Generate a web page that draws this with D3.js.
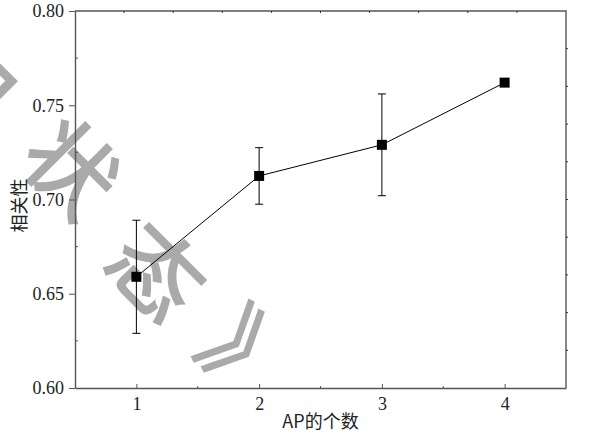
<!DOCTYPE html>
<html>
<head>
<meta charset="utf-8">
<script src="https://cdn.jsdelivr.net/npm/d3@7"></script>
<style>
  body { margin: 0; background: #fff; }
  svg { display: block; }
  .tick text { font-family: "Liberation Serif", serif; font-size: 18px; fill: #222; }
  .title { font-family: "Noto Sans CJK SC", sans-serif; font-size: 18px; fill: #222; }
</style>
</head>
<body>
<div id="chart"></div>
<script>
// number of APs vs. correlation, mean with error bars
const apCount = [1, 2, 3, 4];
const corrMean = [0.659, 0.7125, 0.729, 0.762];
const corrErr = [0.030, 0.015, 0.027, 0];
const yTicks = [0.60, 0.65, 0.70, 0.75, 0.80];
const yMinor = [0.625, 0.675, 0.725, 0.775];
const xTicks = [1, 2, 3, 4];
const xMinor = [1.5, 2.5, 3.5];
const watermark = ["口", "状", "态", "》"];

const W = 590, H = 443;
const margin = { top: 11, right: 24, bottom: 55, left: 75 };

const svg = d3.select("#chart").append("svg")
    .attr("width", W)
    .attr("height", H);

const x = d3.scaleLinear().domain([0.5, 4.5]).range([margin.left, W - margin.right]);
const y = d3.scaleLinear().domain([0.6, 0.8]).range([H - margin.bottom, margin.top]);

// grey watermark glyphs, tilted, behind everything
const wmPos = [[-30, 80], [72, 168], [157, 272], [250, 358]];
svg.append("g").selectAll("text").data(watermark).enter().append("text")
    .attr("transform", (d, i) => `translate(${wmPos[i][0]},${wmPos[i][1]}) rotate(45)`)
    .attr("text-anchor", "middle")
    .attr("dy", "0.38em")
    .attr("font-family", "Noto Sans CJK SC, sans-serif")
    .attr("font-size", 90)
    .attr("fill", "#aaa")
    .attr("stroke", "#aaa")
    .attr("stroke-width", 2)
    .text(d => d);

const frameColor = "#555";

// bottom axis, ticks pointing in
const xAxis = svg.append("g")
    .attr("transform", `translate(0,${y(0.6)})`)
    .call(d3.axisBottom(x).tickValues(xTicks).tickFormat(d3.format("d"))
        .tickSizeInner(-4).tickSizeOuter(0).tickPadding(9));
xAxis.append("g").selectAll("line").data(xMinor).enter().append("line")
    .attr("x1", d => x(d)).attr("x2", d => x(d))
    .attr("y1", 0).attr("y2", -2)
    .attr("stroke", frameColor);

// left axis, major ticks out and minor ticks in
const yAxis = svg.append("g")
    .attr("transform", `translate(${x(0.5)},0)`)
    .call(d3.axisLeft(y).tickValues(yTicks).tickFormat(d3.format(".2f"))
        .tickSizeInner(6).tickSizeOuter(0).tickPadding(5));
yAxis.append("g").selectAll("line").data(yMinor).enter().append("line")
    .attr("x1", 0).attr("x2", 3)
    .attr("y1", d => y(d)).attr("y2", d => y(d))
    .attr("stroke", frameColor);

svg.selectAll(".domain").attr("stroke", frameColor).attr("stroke-width", 1.4);
svg.selectAll(".tick line").attr("stroke", frameColor);
svg.selectAll(".tick text").attr("fill", "#222");

// top and right edges of the box with small ticks
const topTicks = d3.range(1, 10).map(i => 0.5 + i * 0.4);
const rightTicks = d3.range(1, 10).map(i => 0.6 + i * 0.02);
svg.append("path")
    .attr("d", `M${x(0.5)},${y(0.8)}H${x(4.5)}V${y(0.6)}`)
    .attr("fill", "none")
    .attr("stroke", frameColor)
    .attr("stroke-width", 1.4);
svg.append("g").selectAll("line").data(topTicks).enter().append("line")
    .attr("x1", d => x(d)).attr("x2", d => x(d))
    .attr("y1", y(0.8)).attr("y2", y(0.8) + 2)
    .attr("stroke", "#333");
svg.append("g").selectAll("line").data(rightTicks).enter().append("line")
    .attr("x1", x(4.5)).attr("x2", x(4.5) + 2)
    .attr("y1", d => y(d)).attr("y2", d => y(d))
    .attr("stroke", "#333");

// axis titles
svg.append("text")
    .attr("class", "title")
    .attr("x", x(2.5))
    .attr("y", 428)
    .attr("text-anchor", "middle")
    .text("AP的个数");
svg.append("text")
    .attr("class", "title")
    .attr("transform", `translate(26,${(y(0.6) + y(0.8)) / 2 + 6}) rotate(-90)`)
    .attr("text-anchor", "middle")
    .text("相关性");

const pts = apCount.map((d, i) => ({ x: d, m: corrMean[i], e: corrErr[i] }));

// error bars
const eb = svg.append("g").selectAll("g").data(pts.filter(d => d.e > 0)).enter().append("g")
    .attr("stroke", "#000")
    .attr("stroke-width", 1);
eb.append("line")
    .attr("x1", d => x(d.x)).attr("x2", d => x(d.x))
    .attr("y1", d => y(d.m - d.e)).attr("y2", d => y(d.m + d.e));
eb.append("line")
    .attr("x1", d => x(d.x) - 4).attr("x2", d => x(d.x) + 4)
    .attr("y1", d => y(d.m + d.e)).attr("y2", d => y(d.m + d.e));
eb.append("line")
    .attr("x1", d => x(d.x) - 4).attr("x2", d => x(d.x) + 4)
    .attr("y1", d => y(d.m - d.e)).attr("y2", d => y(d.m - d.e));

// connecting line and square markers
svg.append("path")
    .datum(pts)
    .attr("fill", "none")
    .attr("stroke", "#000")
    .attr("stroke-width", 1)
    .attr("d", d3.line().x(d => x(d.x)).y(d => y(d.m)));

svg.append("g").selectAll("rect").data(pts).enter().append("rect")
    .attr("x", d => x(d.x) - 5)
    .attr("y", d => y(d.m) - 5)
    .attr("width", 10)
    .attr("height", 10)
    .attr("fill", "#000");
</script>
</body>
</html>
